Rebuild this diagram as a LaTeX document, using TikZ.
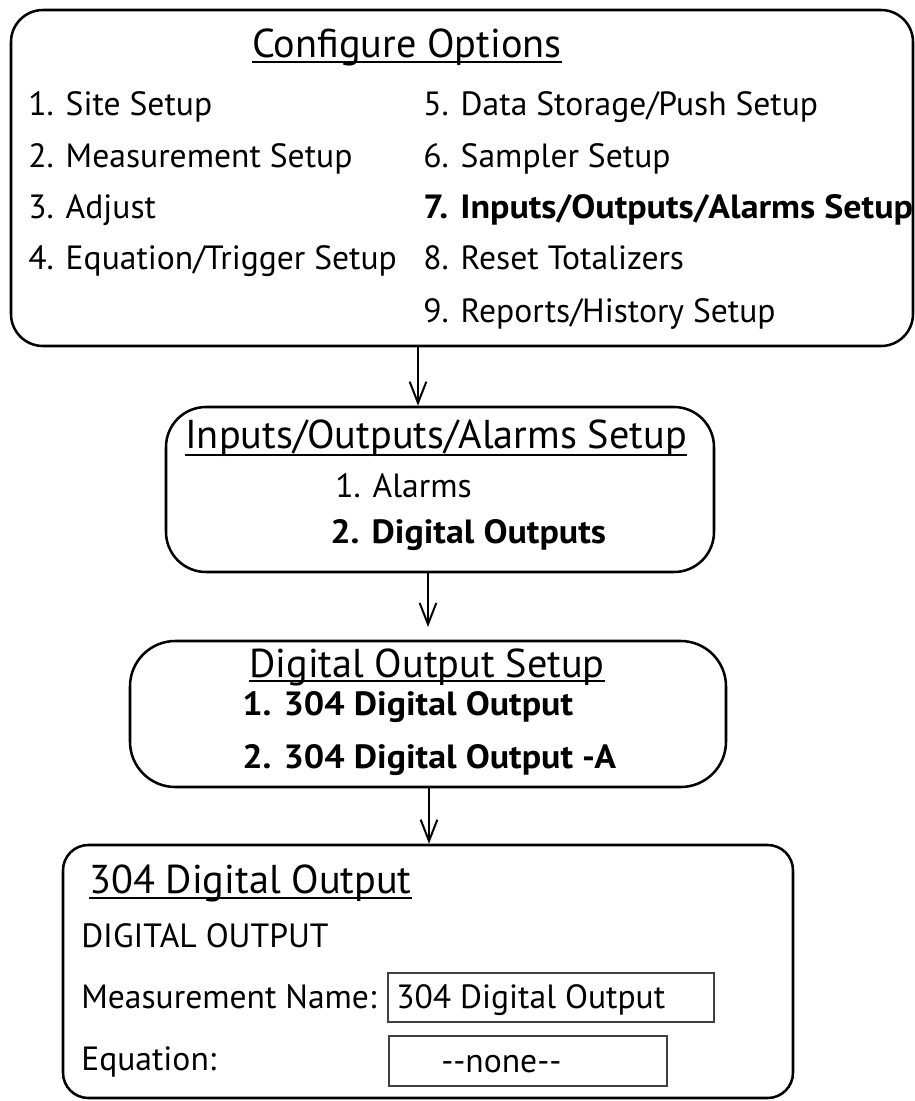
\documentclass[tikz,border=0pt]{standalone}
\usepackage{fontspec}
\setmainfont{PT Sans}[BoldFeatures={FakeStretch=1.07}]
\usetikzlibrary{arrows.meta}
\begin{document}
\begin{tikzpicture}[x=0.75pt,y=-0.75pt,
  box/.style={draw, line width=1.9pt, inner sep=0pt},
  field/.style={draw=black!75, line width=0.9pt},
  txt/.style={inner sep=0pt, anchor=base west, font=\fontsize{25.2}{30}\selectfont},
  btxt/.style={txt, font=\fontsize{25.2}{30}\selectfont\bfseries},
  ttl/.style={inner sep=0pt, anchor=base west, font=\fontsize{30.2}{36}\selectfont},
  uline/.style={line width=1.5pt},
  arr/.style={line width=1.5pt, -{Straight Barb[length=16pt, width=12.5pt, line width=1.5pt]}}
]
\useasboundingbox (0,0) rectangle (915,1101);

% boxes
\node[box, rounded corners=24pt, minimum width=676.5pt, minimum height=252pt] (b1) at (462,178) {};
\node[box, rounded corners=30pt, minimum width=411pt, minimum height=123.75pt] (b2) at (440,489.5) {};
\node[box, rounded corners=34pt, minimum width=447pt, minimum height=109.5pt] (b3) at (428,714) {};
\node[box, rounded corners=19pt, minimum width=547.5pt, minimum height=189.75pt] (b4) at (428,971.5) {};

% box 1 texts
\node[ttl] (t1) at (252,57) {Configure Options};
\draw[uline] ([yshift=-3.75pt]t1.base west) -- ([yshift=-3.75pt]t1.base east);
\node[txt] (o1) at (28,115) {1. Site Setup};
\node[txt] (o2) at (28,167) {2. Measurement Setup};
\node[txt] (o3) at (28,218) {3. Adjust};
\node[txt] (o4) at (28,269) {4. Equation/Trigger Setup};
\node[txt] (o5) at (423,115) {5. Data Storage/Push Setup};
\node[txt] (o6) at (423,167) {6. Sampler Setup};
\node[btxt] (o7) at (423,218) {7. Inputs/Outputs/Alarms Setup};
\node[txt] (o8) at (423,269) {8. Reset Totalizers};
\node[txt] (o9) at (423,322) {9. Reports/History Setup};

% box 2 texts
\node[ttl] (t2) at (185,448) {Inputs/Outputs/Alarms Setup};
\draw[uline] ([yshift=-5pt]t2.base west) -- ([yshift=-5pt]t2.base east);
\node[txt] (p1) at (335,497) {1. Alarms};
\node[btxt] (p2) at (330,543) {2. Digital Outputs};

% box 3 texts
\node[ttl] (t3) at (249,677) {Digital Output Setup};
\draw[uline] ([yshift=-3pt]t3.base west) -- ([yshift=-3pt]t3.base east);
\node[btxt] (q1) at (242,715) {1. 304 Digital Output};
\node[btxt] (q2) at (242,768) {2. 304 Digital Output -A};

% box 4 texts
\node[ttl] (t4) at (89,893) {304 Digital Output};
\draw[uline] ([yshift=-4pt]t4.base west) -- ([yshift=-4pt]t4.base east);
\node[txt] (r1) at (81,947) {DIGITAL OUTPUT};
\node[txt] (r2) at (81,1008) {Measurement Name:};
\node[field, minimum width=244.5pt, minimum height=36.75pt, inner sep=0pt] (f1) at (551,997.5) {};
\node[txt] (r3) at (396,1008) {304 Digital Output};
\node[txt] (r4) at (81,1070) {Equation:};
\node[field, minimum width=208.5pt, minimum height=37.5pt, inner sep=0pt] (f2) at (528,1061) {};
\node[txt] (r5) at (441,1072) {-{}-none-{}-};

% arrows
\coordinate (c1) at (418,0);
\coordinate (c2) at (428,0);
\coordinate (c3) at (429,0);
\coordinate (a2end) at (428,627);
\draw[arr] (c1 |- b1.south) -- (c1 |- b2.north);
\draw[arr] (c2 |- b2.south) -- (a2end);
\draw[arr] (c3 |- b3.south) -- (c3 |- b4.north);
\end{tikzpicture}
\end{document}
